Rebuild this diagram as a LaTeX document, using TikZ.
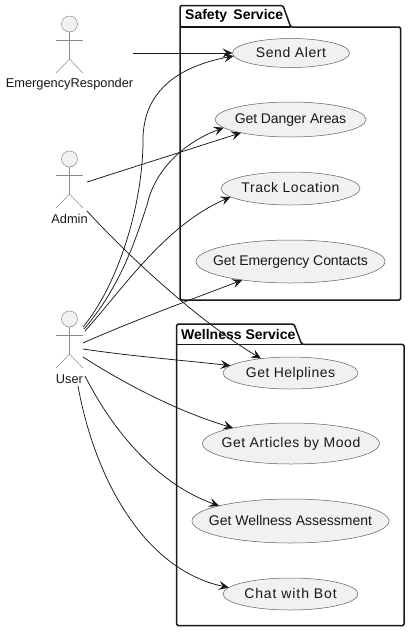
\documentclass[tikz,border=0pt]{standalone}
\usepackage{fontspec}
\setmainfont{Liberation Sans}
\usetikzlibrary{shapes.geometric, arrows.meta}

\definecolor{ink}{HTML}{181818}
\definecolor{shade}{HTML}{F1F1F1}
\tikzset{
    usecase/.style={ellipse, draw=ink!70, line width=0.5pt, fill=shade, inner sep=0pt, outer sep=0pt},
    ucname/.style={inner sep=0pt, text=ink, text height=10.6pt, text depth=2pt,
        font=\fontsize{14}{16}\selectfont\addfontfeature{LetterSpace=#1}},
    actorpart/.style={draw=ink!50, line width=0.5pt},
    actorname/.style={inner sep=0pt, text=ink, font=\fontsize{12.8}{15}\selectfont},
    pkgbox/.style={draw=ink, line width=1.5pt, line join=round, rounded corners=1.5pt},
    pkgname/.style={inner sep=0pt, text=black, font=\fontsize{14}{16}\selectfont\bfseries},
    link/.style={draw=ink, line width=0.75pt, -{Stealth[length=10pt, width=9pt, inset=4pt]}},
}
% one stick figure: head centre, then arms, hip and feet follow from it
\newcommand{\stickman}[2]{
    \draw[actorpart] (#1,#2+8) -- (#1,#2+35);
    \draw[actorpart] (#1-13.5,#2+16) -- (#1+13.5,#2+16);
    \draw[actorpart] (#1-13.5,#2+49) -- (#1,#2+35) -- (#1+13.5,#2+49);
    \draw[actorpart, fill=shade] (#1,#2) circle (8);
}

\begin{document}
\begin{tikzpicture}[x=1pt, y=-1pt]
\useasboundingbox (0,0) rectangle (411,633);

% packages
\draw[pkgbox] (180,300) -- (180,5.5) -- (283,5.5) -- (290.7,27) -- (400.7,27) -- (400.7,300) -- cycle;
\draw[pkgbox] (180,27) -- (290.7,27);
\node[pkgname, anchor=west] (safety) at (185,16) {Safety\, Service};

\draw[pkgbox] (176.7,625.7) -- (176.7,324) -- (294,324) -- (301.7,344.3) -- (404,344.3) -- (404,625.7) -- cycle;
\draw[pkgbox] (176.7,344.3) -- (301.7,344.3);
\node[pkgname, anchor=west] (wellness) at (181,334) {Wellness Service};

% use cases
\node[usecase, minimum width=117pt, minimum height=29pt, label={[ucname=4.3]center:Send Alert}] (alert) at (291,53) {};
\node[usecase, minimum width=151pt, minimum height=35pt, label={[ucname=-0.9]center:Get Danger Areas}] (danger) at (290.5,119.5) {};
\node[usecase, minimum width=139pt, minimum height=33pt, label={[ucname=4]center:Track Location}] (track) at (290.5,188.5) {};
\node[usecase, minimum width=189pt, minimum height=43pt, label={[ucname=-0.6]center:Get Emergency Contacts}] (contacts) at (290.5,261.5) {};
\node[usecase, minimum width=135pt, minimum height=32pt, label={[ucname=3.3]center:Get Helplines}] (helplines) at (290.5,373) {};
\node[usecase, minimum width=177pt, minimum height=41pt, label={[ucname=3.9]center:Get Articles by Mood}] (articles) at (291,443.5) {};
\node[usecase, minimum width=197pt, minimum height=44pt, label={[ucname=0]center:Get Wellness Assessment}] (assessment) at (290.5,521) {};
\node[usecase, minimum width=135pt, minimum height=32pt, label={[ucname=6.6]center:Chat with Bot}] (chat) at (290.5,594) {};

% actors
\stickman{69.5}{24}
\stickman{69.5}{159}
\stickman{69.5}{319}
\node[actorname] (responder) at (69.5,84) {EmergencyResponder};
\node[actorname] (admin) at (69.5,219) {Admin};
\node[actorname] (user) at (69.5,379) {User};

\coordinate (r1) at (133,53);
\coordinate (a1) at (87,182);
\coordinate (a2) at (87,211);
\coordinate (u1) at (83,327);
\coordinate (u2) at (84,329);
\coordinate (u3) at (85,331);
\coordinate (u4) at (83,343);
\coordinate (u5) at (83,349);
\coordinate (u6) at (83,357);
\coordinate (u7) at (85,376);
\coordinate (u8) at (78,386);

\draw[link] (r1) -- (alert.180);
\draw[link] (a1) -- (danger.195);
\draw[link] (a2) .. controls (130,258) and (200,322) .. (helplines.154);
\draw[link] (u1) .. controls (118,285) and (143,205) .. (143,140)
    .. controls (143,90) and (180,66) .. (alert.183);
\draw[link] (u2) .. controls (122,285) and (137,235) .. (147,205)
    .. controls (156,165) and (190,140) .. (danger.187);
\draw[link] (u3) .. controls (122,290) and (165,225) .. (track.188);
\draw[link] (u4) .. controls (130,322) and (190,300) .. (contacts.201);
\draw[link] (u5) .. controls (130,356) and (180,360) .. (helplines.173);
\draw[link] (u6) .. controls (130,387) and (180,412) .. (articles.165);
\draw[link] (u7) .. controls (115,435) and (160,485) .. (assessment.168);
\draw[link] (u8) .. controls (95,480) and (145,570) .. (chat.174);
\end{tikzpicture}
\end{document}
